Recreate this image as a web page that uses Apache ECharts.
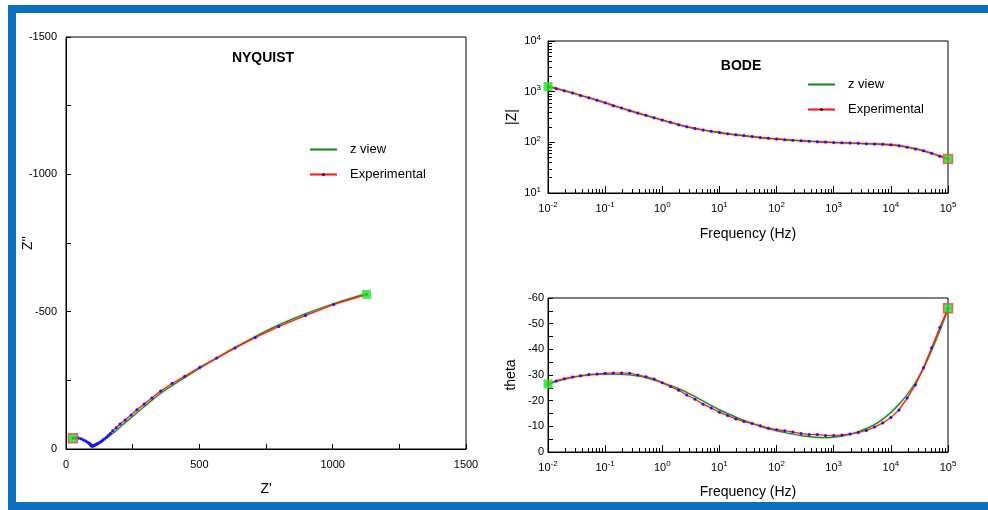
<!DOCTYPE html>
<html>
<head>
<meta charset="utf-8">
<script src="https://cdn.jsdelivr.net/npm/echarts@6/dist/echarts.min.js"></script>
<style>
  html, body { margin: 0; padding: 0; background: #fff; }
  #chart { width: 988px; height: 510px; }
</style>
</head>
<body>
<div id="chart"></div>
<script>
// Impedance spectrum: measured points ("Experimental") and equivalent-circuit fit ("z view")

// Frequencies, 10 mHz .. 100 kHz, seven points per decade
const freqHz = [0.01, 0.01389, 0.01931, 0.02683, 0.03728, 0.05179, 0.07197,
  0.1, 0.1389, 0.1931, 0.2683, 0.3728, 0.5179, 0.7197,
  1, 1.389, 1.931, 2.683, 3.728, 5.179, 7.197,
  10, 13.89, 19.31, 26.83, 37.28, 51.79, 71.97,
  100, 138.9, 193.1, 268.3, 372.8, 517.9, 719.7,
  1000, 1389, 1931, 2683, 3728, 5179, 7197,
  10000, 13890, 19310, 26830, 37280, 51790, 71970, 100000];

// |Z| (ohm) at each frequency
const expModulus = [1265, 1160, 1045, 945, 840, 757, 680, 604, 530, 475,
  422, 379, 341, 305, 276, 248, 222, 203, 187, 175,
  165, 157, 148, 141, 136, 130, 124, 120, 117, 113,
  110, 108, 105, 103, 101, 99, 98, 97, 96, 94,
  93, 92, 90, 86, 80, 74, 68, 61, 53, 47];
const fitModulus = [1265, 1150, 1045, 945, 845, 760, 680, 605, 535, 475,
  423, 378, 338, 304, 274, 248, 224, 204, 188, 175,
  164, 155, 147, 140, 134, 129, 124, 120, 116, 113,
  110, 107, 105, 103, 101, 99, 98, 97, 95, 94,
  93, 91, 89, 86, 81, 75, 68, 61, 54, 47];

// Phase angle (degrees) at each frequency
const expPhase = [-26.5, -27.7, -28.5, -29.2, -29.7, -30.2, -30.4, -30.7, -30.8, -30.8,
  -30.7, -30.0, -29.3, -28.4, -27.0, -25.5, -24.1, -22.2, -20.6, -18.6,
  -17.1, -15.5, -14.2, -12.9, -11.9, -11.1, -10.2, -9.3, -8.7, -8.3,
  -7.8, -7.2, -6.8, -6.8, -6.4, -6.4, -6.6, -7.0, -7.6, -8.4,
  -9.7, -11.3, -13.4, -16.4, -21.0, -26.1, -32.8, -40.6, -48.5, -56.0];
const fitPhase = [-26.4, -27.5, -28.4, -29.1, -29.6, -30.0, -30.2, -30.3, -30.3, -30.2,
  -30.0, -29.6, -29.0, -28.1, -27.0, -25.9, -24.7, -23.3, -21.6, -19.9,
  -18.1, -16.4, -15.0, -13.6, -12.3, -11.2, -10.0, -9.1, -8.3, -7.6,
  -7.0, -6.4, -6.0, -5.7, -5.6, -5.8, -6.2, -6.9, -7.9, -9.1,
  -10.7, -12.8, -15.4, -18.6, -22.4, -27.0, -32.6, -39.6, -47.3, -55.6];

// Nyquist plane, ordered from 100 kHz down to 10 mHz: Z' (real) and Z'' (imaginary)
const nyqExpRe = [26, 35, 46, 57, 66, 75, 82, 88, 90, 92,
  93, 95, 96, 97, 98, 100, 102, 104, 107, 109,
  112, 116, 118, 122, 128, 133, 137, 143, 151, 158,
  166, 175, 188, 203, 222, 244, 266, 293, 322, 355,
  398, 445, 502, 565, 634, 710, 798, 898, 1004, 1127];
const nyqExpIm = [-39, -40, -40, -37, -33, -29, -24, -21, -18, -16,
  -14, -13, -12, -11, -11, -11, -12, -12, -14, -15,
  -16, -18, -19, -22, -25, -28, -31, -36, -42, -49,
  -56, -66, -77, -91, -106, -124, -143, -164, -186, -211,
  -239, -265, -298, -331, -368, -406, -446, -486, -526, -563];
const nyqFitRe = [26, 35, 45, 55, 64, 72, 79, 85, 89, 92,
  94, 96, 97, 98, 99, 100, 102, 104, 106, 109,
  112, 115, 119, 123, 128, 133, 139, 146, 154, 162,
  171, 182, 195, 210, 228, 249, 272, 299, 329, 364,
  404, 450, 503, 564, 633, 709, 795, 893, 1003, 1124];
const nyqFitIm = [-39, -40, -39, -36, -32, -28, -24, -20, -17, -15,
  -13, -12, -11, -11, -11, -11, -12, -13, -14, -15,
  -17, -18, -20, -22, -25, -28, -32, -36, -41, -47,
  -54, -62, -73, -86, -101, -118, -137, -159, -183, -209,
  -235, -263, -295, -330, -369, -409, -450, -490, -529, -565];

// Axis ticks
const nyqLabelStep = 500;
const phaseLabelStep = 10;
const freqDecades = [0.01, 0.1, 1, 10, 100, 1000, 10000, 100000];
const modulusDecades = [10, 100, 1000, 10000];
const logSubdivisions = [2, 3, 4, 5, 6, 7, 8, 9];

const FONT = 'Arial, "Liberation Sans", sans-serif';
const BLUE_FRAME = '#0a70be';

function zip(a, b) { return a.map((v, i) => [v, b[i]]); }
function minorsOf(decades) {
  const out = [];
  for (let i = 0; i < decades.length - 1; i++) {
    logSubdivisions.forEach(m => out.push(+(decades[i] * m).toPrecision(6)));
  }
  return out;
}
function powLabel(v) {
  return '{b|10}{s|' + Math.round(Math.log10(v)) + '}';
}
const powRich = {
  b: { fontSize: 11, color: '#000', fontFamily: FONT },
  s: { fontSize: 8, color: '#000', fontFamily: FONT, padding: [0, 0, 7, 0] }
};

const fitLine = { color: '#138613', width: 1.2, shadowColor: 'rgba(60,170,60,0.7)', shadowBlur: 2 };
const expLine = { color: '#ff1010', width: 1.1, shadowColor: 'rgba(255,90,90,0.7)', shadowBlur: 2 };
const dotStyle = { color: '#1414ff' };
const tickBase = { inside: true, lineStyle: { color: '#000', width: 1 } };
const nameStyle = { fontSize: 14, color: '#000', fontFamily: FONT };

function fitSeries(x, y, data) {
  return { type: 'line', name: 'z view', xAxisIndex: x, yAxisIndex: y, data: data,
    symbol: 'none', smooth: 0.3, lineStyle: fitLine, z: 3 };
}
function expSeries(x, y, data) {
  return { type: 'line', name: 'Experimental', xAxisIndex: x, yAxisIndex: y, data: data,
    symbol: 'circle', symbolSize: 3, showAllSymbol: true, itemStyle: dotStyle,
    lineStyle: expLine, z: 4 };
}
// squares at the two ends of the sweep (first / last points)
function endSeries(x, y, hiF, loF) {
  return { type: 'scatter', name: 'ends', xAxisIndex: x, yAxisIndex: y, symbol: 'rect', z: 5,
    data: [
      { value: hiF, symbolSize: 9, itemStyle: { color: '#22e022', borderColor: '#ff4040', borderWidth: 1.5 } },
      { value: loF, symbolSize: 9, itemStyle: { color: '#1ee61e' } }
    ] };
}

const nyqExp = zip(nyqExpRe, nyqExpIm);
const nyqFit = zip(nyqFitRe, nyqFitIm);
const modExp = zip(freqHz, expModulus);
const modFit = zip(freqHz, fitModulus);
const phExp = zip(freqHz, expPhase);
const phFit = zip(freqHz, fitPhase);
const last = freqHz.length - 1;

const legendBase = {
  orient: 'vertical', itemWidth: 27, itemHeight: 4, itemGap: 12, padding: 0,
  data: [
    { name: 'z view', itemStyle: { opacity: 0 } },
    { name: 'Experimental', itemStyle: { color: '#202040' } }
  ],
  textStyle: { fontSize: 13, color: '#000', fontFamily: FONT, padding: [0, 0, 0, 8] },
  selectedMode: false
};

function valueName(name, gap) {
  return { name: name, nameLocation: 'middle', nameGap: gap, nameMoveOverlap: false, nameTextStyle: nameStyle };
}

const option = {
  animation: false,
  backgroundColor: '#fff',
  textStyle: { fontFamily: FONT },
  graphic: [
    { type: 'rect', shape: { x: 8, y: 5, width: 980, height: 8 }, style: { fill: BLUE_FRAME } },
    { type: 'rect', shape: { x: 8, y: 5, width: 8, height: 505 }, style: { fill: BLUE_FRAME } },
    { type: 'rect', shape: { x: 8, y: 502, width: 980, height: 8 }, style: { fill: BLUE_FRAME } },
    { type: 'text', x: 263, y: 58, style: { text: 'NYQUIST', fill: '#000', font: 'bold 14px ' + FONT, align: 'center', verticalAlign: 'middle' } },
    { type: 'text', x: 741, y: 66, style: { text: 'BODE', fill: '#000', font: 'bold 14px ' + FONT, align: 'center', verticalAlign: 'middle' } }
  ],
  legend: [
    Object.assign({ left: 309, top: 143 }, legendBase),
    Object.assign({ left: 807, top: 78 }, legendBase)
  ],
  grid: [
    { left: 66, top: 37, width: 400, height: 412, show: true, borderColor: '#000', borderWidth: 1, outerBoundsMode: 'none' },
    { left: 548, top: 41, width: 400, height: 152, show: true, borderColor: '#000', borderWidth: 1, outerBoundsMode: 'none' },
    { left: 548, top: 298, width: 400, height: 154, show: true, borderColor: '#000', borderWidth: 1, outerBoundsMode: 'none' }
  ],
  xAxis: [
    Object.assign({ // Nyquist Z'
      gridIndex: 0, type: 'value', position: 'bottom', min: 0, max: 1500, interval: 250,
      axisLine: { onZero: false, lineStyle: { color: '#000' } },
      axisTick: Object.assign({ length: 5 }, tickBase),
      axisLabel: { margin: 10, fontSize: 11, color: '#000', formatter: v => (v % nyqLabelStep === 0 ? String(v) : '') },
      splitLine: { show: false }
    }, valueName("Z'", 33)),
    Object.assign({ // |Z| frequency, decades
      gridIndex: 1, type: 'log', position: 'bottom', min: 0.01, max: 100000,
      axisLine: { onZero: false, lineStyle: { color: '#000' } },
      axisTick: Object.assign({ length: 7, customValues: freqDecades }, tickBase),
      axisLabel: { margin: 8, customValues: freqDecades, formatter: powLabel, rich: powRich },
      splitLine: { show: false }, minorTick: { show: false }
    }, valueName('Frequency (Hz)', 34)),
    { // |Z| frequency, sub-decade ticks
      gridIndex: 1, type: 'log', position: 'bottom', min: 0.01, max: 100000,
      axisLine: { show: false },
      axisTick: Object.assign({ length: 4, customValues: minorsOf(freqDecades) }, tickBase),
      axisLabel: { show: false }, splitLine: { show: false }
    },
    Object.assign({ // phase frequency, decades
      gridIndex: 2, type: 'log', position: 'bottom', min: 0.01, max: 100000,
      axisLine: { onZero: false, lineStyle: { color: '#000' } },
      axisTick: Object.assign({ length: 7, customValues: freqDecades }, tickBase),
      axisLabel: { margin: 8, customValues: freqDecades, formatter: powLabel, rich: powRich },
      splitLine: { show: false }, minorTick: { show: false }
    }, valueName('Frequency (Hz)', 33)),
    { // phase frequency, sub-decade ticks
      gridIndex: 2, type: 'log', position: 'bottom', min: 0.01, max: 100000,
      axisLine: { show: false },
      axisTick: Object.assign({ length: 4, customValues: minorsOf(freqDecades) }, tickBase),
      axisLabel: { show: false }, splitLine: { show: false }
    }
  ],
  yAxis: [
    Object.assign({ // Nyquist Z''
      gridIndex: 0, type: 'value', position: 'left', min: -1500, max: 0, interval: 250, inverse: true,
      nameRotate: 90,
      axisLine: { onZero: false, lineStyle: { color: '#000' } },
      axisTick: Object.assign({ length: 5 }, tickBase),
      axisLabel: { margin: 9, fontSize: 11, color: '#000', formatter: v => (v % nyqLabelStep === 0 ? String(v) : '') },
      splitLine: { show: false }
    }, valueName("Z''", 31)),
    Object.assign({ // |Z| decades
      gridIndex: 1, type: 'log', position: 'left', min: 10, max: 10000, nameRotate: 90,
      axisLine: { onZero: false, lineStyle: { color: '#000' } },
      axisTick: Object.assign({ length: 7, customValues: modulusDecades }, tickBase),
      axisLabel: { margin: 7, customValues: modulusDecades, formatter: powLabel, rich: powRich },
      splitLine: { show: false }, minorTick: { show: false }
    }, valueName('|Z|', 29)),
    { // |Z| sub-decade ticks
      gridIndex: 1, type: 'log', position: 'left', min: 10, max: 10000,
      axisLine: { show: false },
      axisTick: Object.assign({ length: 4, customValues: minorsOf(modulusDecades) }, tickBase),
      axisLabel: { show: false }, splitLine: { show: false }
    },
    Object.assign({ // phase
      gridIndex: 2, type: 'value', position: 'left', min: -60, max: 0, interval: 5, inverse: true,
      nameRotate: 90,
      axisLine: { onZero: false, lineStyle: { color: '#000' } },
      axisTick: Object.assign({ length: 5 }, tickBase),
      axisLabel: { margin: 4, fontSize: 11, color: '#000', formatter: v => (v % phaseLabelStep === 0 ? String(v) : '') },
      splitLine: { show: false }
    }, valueName('theta', 30))
  ],
  series: [
    fitSeries(0, 0, nyqFit),
    expSeries(0, 0, nyqExp),
    endSeries(0, 0, nyqExp[0], nyqExp[nyqExp.length - 1]),
    fitSeries(1, 1, modFit),
    expSeries(1, 1, modExp),
    endSeries(1, 1, modExp[last], modExp[0]),
    fitSeries(3, 3, phFit),
    expSeries(3, 3, phExp),
    endSeries(3, 3, phExp[last], phExp[0])
  ]
};

const chart = echarts.init(document.getElementById('chart'), null, { renderer: 'canvas' });
chart.setOption(option);
</script>
</body>
</html>
